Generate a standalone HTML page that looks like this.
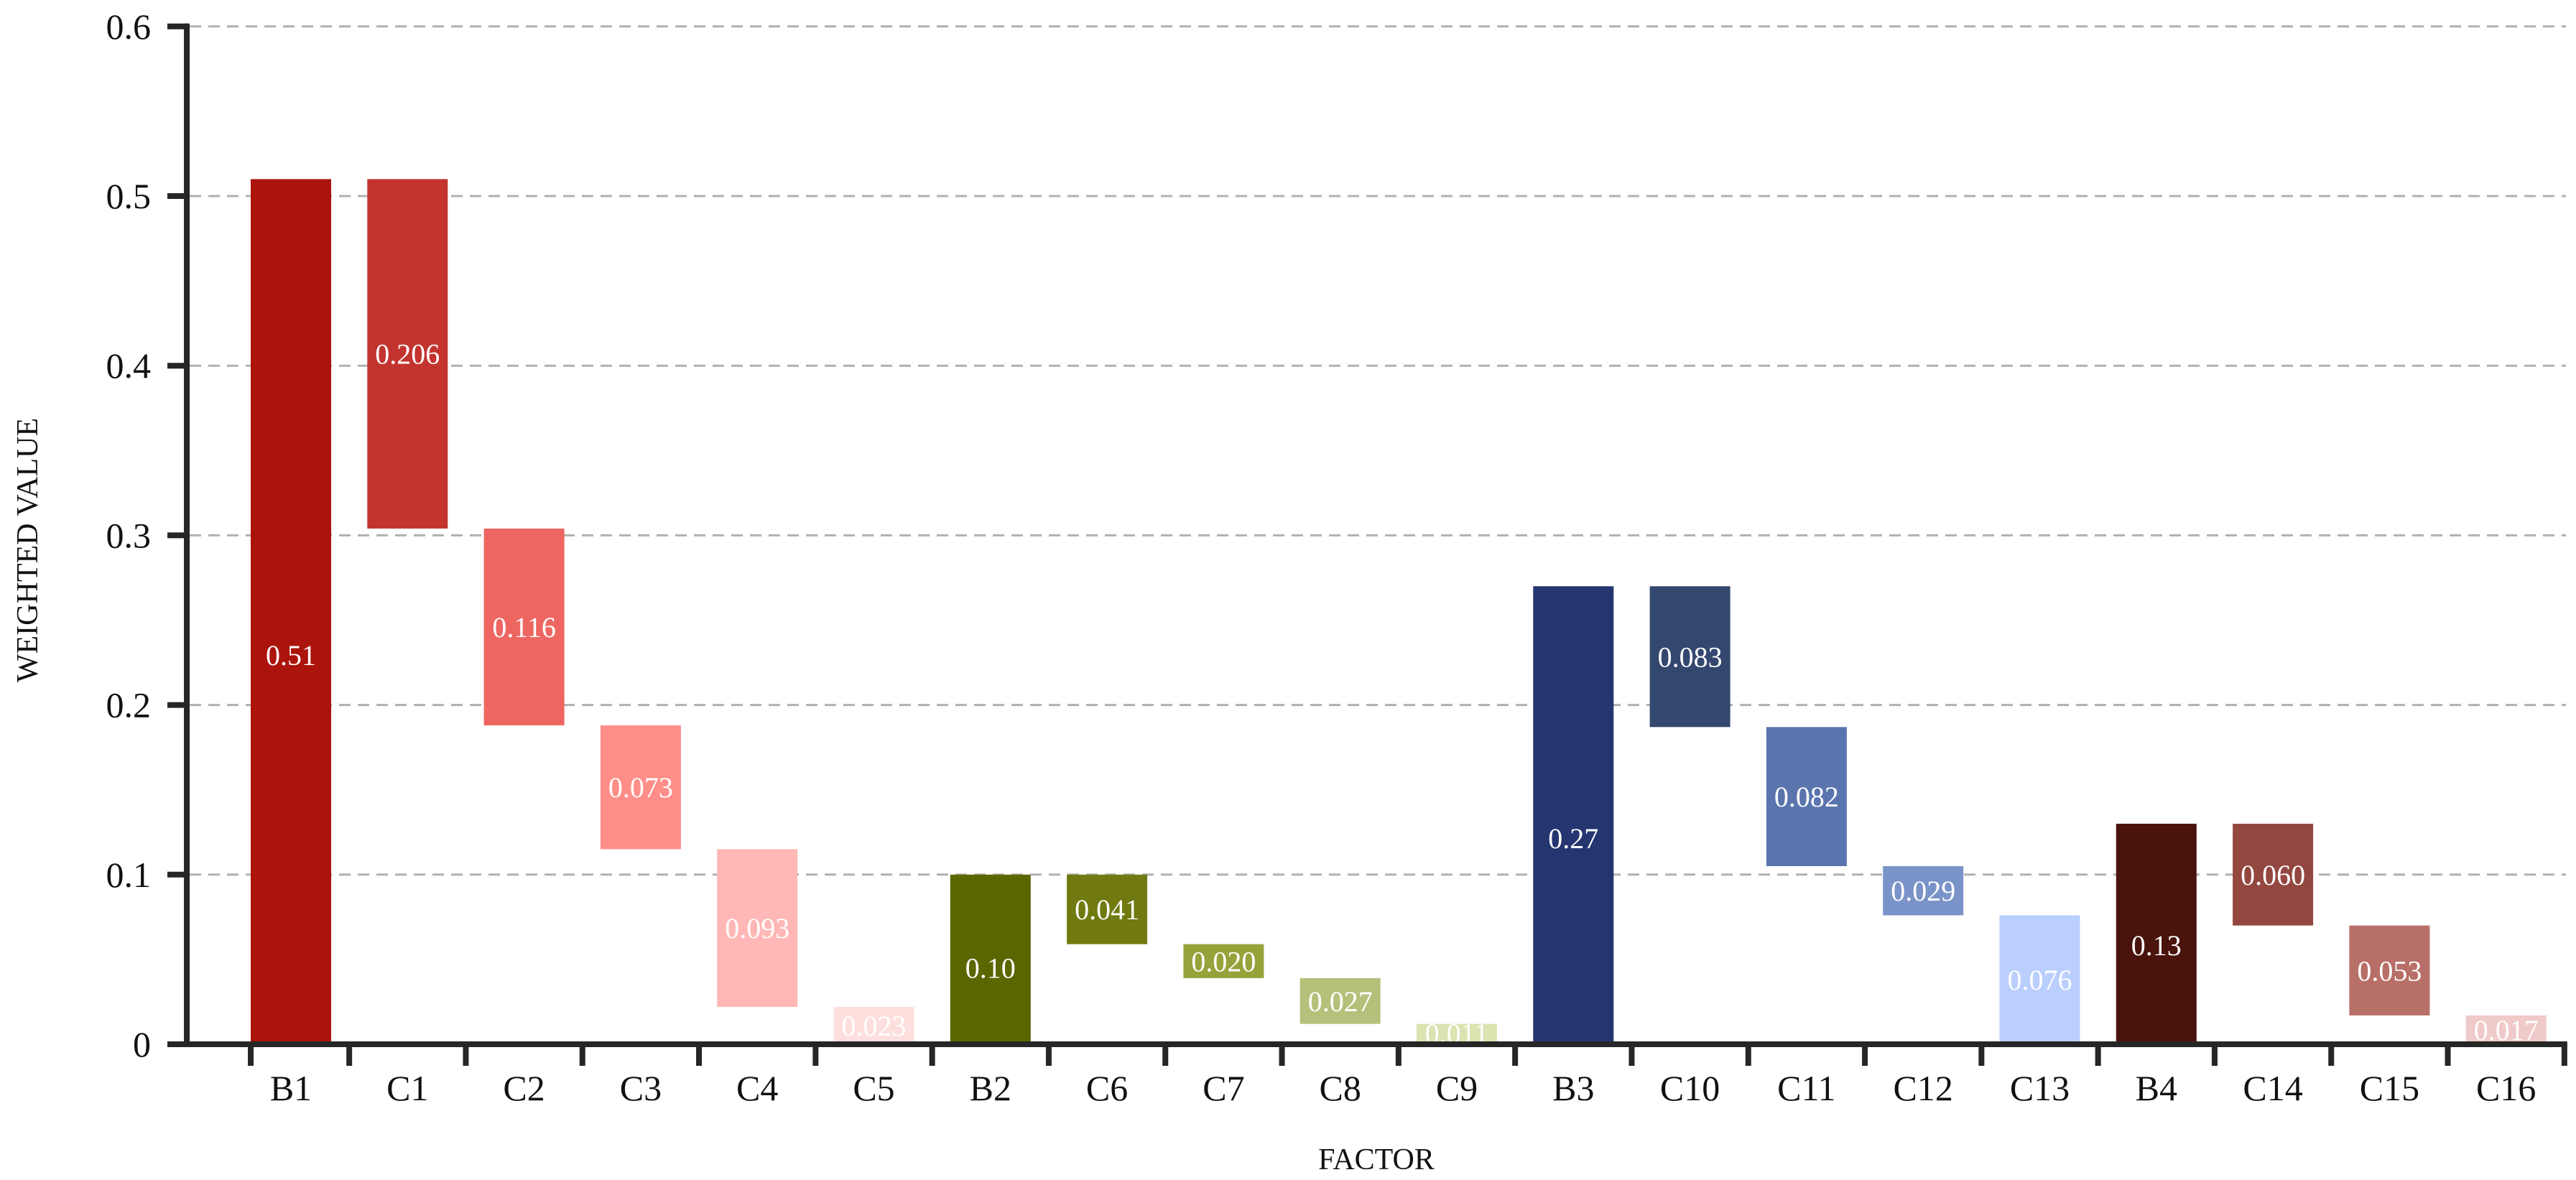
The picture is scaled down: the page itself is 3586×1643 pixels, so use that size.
<!DOCTYPE html>
<html><head><meta charset="utf-8"><style>
html,body{margin:0;padding:0;background:#fff}
svg{display:block}
text{font-family:"Liberation Serif",serif}
</style></head><body>
<svg id="chart" width="3586" height="1643" viewBox="0 0 3586 1643" xmlns="http://www.w3.org/2000/svg">
<g id="grid"></g>
<g id="bars"></g>
<g id="axes"></g>
<text x="1916" y="1628" font-size="42" text-anchor="middle" fill="#111">FACTOR</text>
<text x="0" y="0" font-size="42" text-anchor="middle" fill="#111" transform="translate(52,766) rotate(-90)">WEIGHTED VALUE</text>
</svg>
<script>
const categories = ["B1","C1","C2","C3","C4","C5","B2","C6","C7","C8","C9","B3","C10","C11","C12","C13","B4","C14","C15","C16"];
const values = [0.51,0.206,0.116,0.073,0.093,0.023,0.10,0.041,0.020,0.027,0.011,0.27,0.083,0.082,0.029,0.076,0.13,0.060,0.053,0.017];
const parentFlags = [1,0,0,0,0,0,1,0,0,0,0,1,0,0,0,0,1,0,0,0];
const colors = ["#ab140c","#c4342f","#ee6661","#ff8e89","#ffb8b5","#fde0de","#5c6600","#707a10","#97a23a","#b5c07a","#dce2b0","#253570","#34476f","#5a74ae","#7a93c8","#bacffe","#4a130b","#944740","#b86f68","#efcac8"];
const yTicks = [0,0.1,0.2,0.3,0.4,0.5,0.6];
const yTickLabels = ["0","0.1","0.2","0.3","0.4","0.5","0.6"];

const NS = "http://www.w3.org/2000/svg";
const y0 = 1454, yPerUnit = 2362, x0 = 405, step = 162.3, barW = 112;
function yScale(v){ return y0 - v*yPerUnit; }
function xScale(i){ return x0 + i*step; }
function mk(tag, attrs, parent){ const e=document.createElementNS(NS,tag); for(const k in attrs) e.setAttribute(k,attrs[k]); parent.appendChild(e); return e; }

const gridG = document.getElementById('grid');
const barsG = document.getElementById('bars');
const axesG = document.getElementById('axes');

yTicks.forEach((t,i)=>{
  if(t>0){
    const g = mk('line',{x1:264,x2:3572,y1:yScale(t),y2:yScale(t),stroke:'#b0b0b0','stroke-width':3,'stroke-dasharray':'16 10'},gridG);
    
    
  }
  const tk = mk('line',{x1:233,x2:262,y1:yScale(t),y2:yScale(t),stroke:'#262626','stroke-width':8},axesG);
  
  
  const lb = mk('text',{x:210,y:yScale(t)+17,'font-size':50,'text-anchor':'end',fill:'#111'},axesG);
  lb.textContent = yTickLabels[i];
  
  
});

let runTop = 0;
categories.forEach((c,i)=>{
  let lo, hi;
  if(parentFlags[i]){ lo = 0; hi = values[i]; runTop = values[i]; }
  else { hi = runTop; lo = runTop - values[i]; if(lo<0) lo=0; runTop = lo; }
  const r = mk('rect',{x:xScale(i)-barW/2,y:yScale(hi),width:barW,height:yScale(lo)-yScale(hi),fill:colors[i]},barsG);
  
  
  const frac = parentFlags[i] ? 0.45 : 0.5;
  const ly = yScale(lo + (hi-lo)*frac);
  const t = mk('text',{x:xScale(i),y:ly+14,'font-size':40,'text-anchor':'middle',fill:'#fff'},barsG);
  t.textContent = parentFlags[i] ? values[i].toFixed(2) : values[i].toFixed(3);
  
  
  const xl = mk('text',{x:xScale(i),y:1532,'font-size':50,'text-anchor':'middle',fill:'#111'},axesG);
  xl.textContent = c;
  
  
});

const tickXs = [xScale(0)-barW/2];
for(let i=1;i<categories.length;i++) tickXs.push(xScale(i)-step/2);
tickXs.push(xScale(categories.length-1)+step/2);
tickXs.forEach(x=>{
  const tk = mk('line',{x1:x,x2:x,y1:1454,y2:1484,stroke:'#262626','stroke-width':8},axesG);
  
  
});
const ya = mk('line',{x1:260,x2:260,y1:yScale(0.6)-4,y2:1458,stroke:'#262626','stroke-width':8},axesG);


const xa = mk('line',{x1:233,x2:tickXs[tickXs.length-1]+4,y1:1454,y2:1454,stroke:'#262626','stroke-width':8},axesG);


</script>
</body></html>
